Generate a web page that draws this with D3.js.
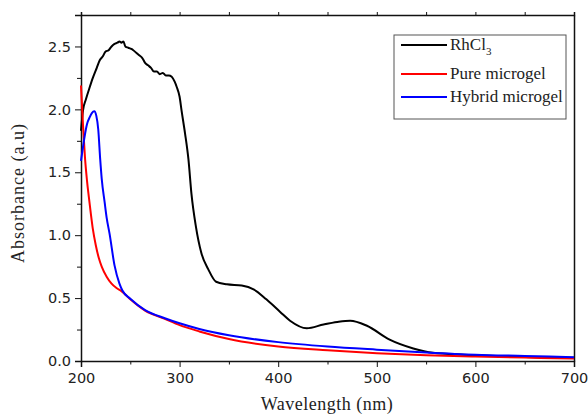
<!DOCTYPE html>
<html>
<head>
<meta charset="utf-8">
<script src="https://cdn.jsdelivr.net/npm/d3@7"></script>
<style>
  body { margin: 0; background: #fff; }
  .axis text { font-family: "DejaVu Sans", sans-serif; font-size: 14.5px; fill: #222; }
  .axis path, .axis line { stroke: #111; }
  .label { font-family: "Liberation Serif", "Times New Roman", serif; fill: #222; }
</style>
</head>
<body>
<div id="chart"></div>
<script>
// chart size and margins, picked so the plot box sits where the reference one does
const svgWidth = 588;
const svgHeight = 416;
const margin = { top: 15, right: 14, bottom: 55, left: 81 };
const width = svgWidth - margin.left - margin.right;
const height = svgHeight - margin.top - margin.bottom;

// series names and colours
const seriesNames = ["RhCl3", "Pure microgel", "Hybrid microgel"];
const seriesColors = ["#000000", "#ff0000", "#0000ff"];

// RhCl3 spectrum, [wavelength nm, absorbance]
const rhcl3 = [
    [200, 1.83], [202, 1.99], [205, 2.08], [209, 2.18], [212, 2.25], [216, 2.33],
    [219, 2.39], [222, 2.42], [225, 2.46], [228, 2.47], [231, 2.50], [234, 2.52],
    [237, 2.53], [239, 2.54], [241, 2.53], [243, 2.54], [245, 2.50], [248, 2.49],
    [251, 2.48], [253, 2.47], [256, 2.45], [259, 2.43], [262, 2.41], [265, 2.37],
    [268, 2.35], [271, 2.33], [274, 2.30], [277, 2.30], [280, 2.28], [283, 2.29],
    [286, 2.27], [289, 2.27], [292, 2.26], [295, 2.22], [297, 2.18], [300, 2.10],
    [302, 1.99], [305.5, 1.81], [309, 1.60], [312, 1.33], [316.5, 1.07], [322, 0.86],
    [329, 0.73], [337, 0.63], [348, 0.61], [363, 0.60], [375, 0.57], [388, 0.49],
    [402, 0.39], [412, 0.32], [429, 0.26], [446, 0.29], [460, 0.31], [473, 0.32],
    [490, 0.28], [513, 0.17], [537, 0.10], [557, 0.065], [588, 0.05], [620, 0.04],
    [660, 0.03], [700, 0.025]
];

// pure microgel
const pureMicrogel = [
    [200, 2.19], [202, 1.88], [204, 1.62], [206, 1.44], [208, 1.30], [210, 1.17],
    [212, 1.05], [215, 0.92], [218, 0.82], [221, 0.75], [226, 0.67], [231, 0.615],
    [236, 0.58], [241, 0.555], [250, 0.49], [265, 0.40], [285, 0.335], [300, 0.285],
    [320, 0.235], [350, 0.175], [400, 0.115], [450, 0.085], [500, 0.062], [550, 0.045],
    [600, 0.035], [650, 0.027], [700, 0.02]
];

// hybrid microgel
const hybridMicrogel = [
    [200, 1.59], [202, 1.70], [204, 1.80], [206, 1.88], [209, 1.94], [211, 1.97],
    [213.5, 1.985], [215.5, 1.95], [217.5, 1.84], [219.5, 1.60], [221, 1.45], [224, 1.26],
    [226, 1.14], [229, 1.01], [234, 0.76], [239, 0.615], [242, 0.56], [250, 0.495],
    [265, 0.405], [285, 0.34], [300, 0.30], [320, 0.255], [350, 0.205], [400, 0.15],
    [450, 0.115], [500, 0.09], [550, 0.068], [600, 0.05], [650, 0.04], [700, 0.03]
];

const allSeries = [rhcl3, pureMicrogel, hybridMicrogel];

// tick values
const xMajorTicks = [200, 300, 400, 500, 600, 700];
const xMinorTicks = [250, 350, 450, 550, 650];
const yMajorTicks = [0, 0.5, 1.0, 1.5, 2.0, 2.5];
const yMinorTicks = [0.25, 0.75, 1.25, 1.75, 2.25];

const svg = d3.select("#chart")
    .append("svg")
    .attr("width", svgWidth)
    .attr("height", svgHeight)
    .append("g")
    .attr("transform", `translate(${margin.left},${margin.top})`);

const x = d3.scaleLinear()
    .domain([200, 700])
    .range([0, width]);

const y = d3.scaleLinear()
    .domain([0, 2.75])
    .range([height, 0]);

// bottom axis, major ticks with labels, then minor ones
svg.append("g")
    .attr("class", "axis")
    .attr("transform", `translate(0, ${height})`)
    .call(d3.axisBottom(x).tickValues(xMajorTicks).tickSize(6).tickPadding(6).tickFormat(d3.format("d")))
    .call(g => g.select(".domain").attr("stroke-width", 1.5));

svg.append("g")
    .attr("class", "axis")
    .attr("transform", `translate(0, ${height})`)
    .call(d3.axisBottom(x).tickValues(xMinorTicks).tickSize(3.5).tickFormat(""))
    .call(g => g.select(".domain").remove());

// left axis
svg.append("g")
    .attr("class", "axis")
    .call(d3.axisLeft(y).tickValues(yMajorTicks).tickSize(6).tickPadding(4).tickFormat(d3.format(".1f")))
    .call(g => g.select(".domain").attr("stroke-width", 1.5));

svg.append("g")
    .attr("class", "axis")
    .call(d3.axisLeft(y).tickValues(yMinorTicks).tickSize(4).tickFormat(""))
    .call(g => g.select(".domain").remove());

// top axis, small outward ticks only
svg.append("g")
    .attr("class", "axis")
    .call(d3.axisTop(x).tickValues(xMajorTicks.concat(xMinorTicks)).tickSize(3).tickFormat(""))
    .call(g => g.select(".domain").attr("stroke-width", 1.5));

// right side, just a line
svg.append("g")
    .attr("class", "axis")
    .attr("transform", `translate(${width}, 0)`)
    .call(d3.axisRight(y).tickValues([]).tickSizeOuter(0))
    .call(g => g.select(".domain").attr("stroke-width", 1.5));

// curves
const line = d3.line()
    .x(d => x(d[0]))
    .y(d => y(d[1]))
    .curve(d3.curveMonotoneX);

svg.selectAll(".curve")
    .data(allSeries)
    .enter()
    .append("path")
    .attr("class", "curve")
    .attr("d", line)
    .attr("fill", "none")
    .attr("stroke", (d, i) => seriesColors[i])
    .attr("stroke-width", 2);

// axis titles
svg.append("text")
    .attr("class", "label")
    .text("Wavelength (nm)")
    .attr("x", 327 - margin.left)
    .attr("y", height + 49)
    .attr("text-anchor", "middle")
    .style("font-size", "18px")
    .style("letter-spacing", "0.5px");

svg.append("text")
    .attr("class", "label")
    .text("Absorbance (a.u)")
    .attr("transform", `translate(${24 - margin.left}, ${193 - margin.top}) rotate(-90)`)
    .attr("text-anchor", "middle")
    .style("font-size", "18px")
    .style("letter-spacing", "1px");

// legend box
const legend = svg.append("g")
    .attr("transform", `translate(${394 - margin.left}, ${35 - margin.top})`);

legend.append("rect")
    .attr("width", 172)
    .attr("height", 84)
    .attr("fill", "#fff")
    .attr("stroke", "#555")
    .attr("stroke-width", 1);

const legendRows = [10, 39, 62];

legendRows.forEach((ry, i) => {
    legend.append("line")
        .attr("x1", 7)
        .attr("x2", 53)
        .attr("y1", ry)
        .attr("y2", ry)
        .attr("stroke", seriesColors[i])
        .attr("stroke-width", 2);
    const t = legend.append("text")
        .attr("class", "label")
        .attr("x", 56)
        .attr("y", ry + 5)
        .style("font-size", "17px");
    if (i == 0) {
        // subscript 3 in RhCl3
        t.append("tspan").text("RhCl");
        t.append("tspan").text("3").attr("dy", 5).style("font-size", "11px");
    } else {
        t.text(seriesNames[i]);
    }
});
</script>
</body>
</html>
